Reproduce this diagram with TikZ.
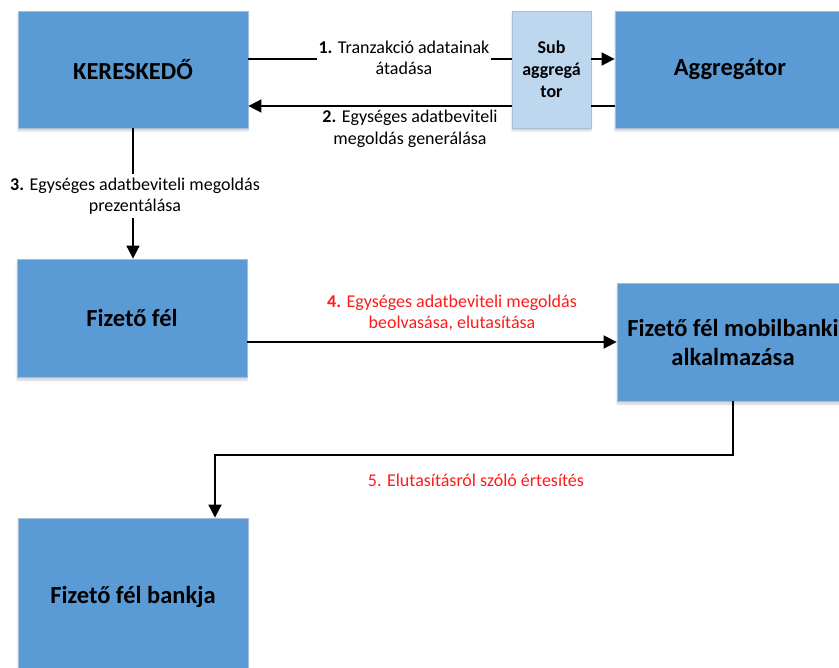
\documentclass[tikz,border=0pt]{standalone}
\usepackage{fontspec}
\setmainfont{Carlito}
\usetikzlibrary{arrows.meta,shadows.blur}
\definecolor{boxblue}{HTML}{5B9BD5}
\definecolor{boxline}{HTML}{A9BDD6}
\definecolor{subblue}{HTML}{BDD7EE}
\definecolor{lblred}{HTML}{FF1A1A}
\tikzset{
  actor/.style={rectangle, fill=boxblue, draw=boxline, line width=0.8pt,
    font=\fontsize{24.5}{29}\selectfont\bfseries, align=center, inner sep=0pt,
    blur shadow={shadow xshift=0pt, shadow yshift=-3pt, shadow blur steps=6, shadow opacity=18}},
  subbox/.style={actor, fill=subblue, font=\fontsize{18}{22}\selectfont\bfseries},
  lbl/.style={font=\fontsize{18}{21.5}\selectfont, align=center, inner sep=1pt},
  redlbl/.style={lbl, text=lblred},
  flow/.style={line width=1.8pt, -{Triangle[length=13pt,width=13pt]}},
  plain/.style={line width=1.8pt},
}
\begin{document}
\begin{tikzpicture}[x=1pt,y=-1pt]
\useasboundingbox (0,0) rectangle (839,668);
\clip (0,0) rectangle (839,668);

% parties
\node[actor, minimum width=230pt, minimum height=117pt] (K) at (133,69.5) {KERESKEDŐ};
\node[subbox, minimum width=79pt, minimum height=117pt] (S) at (551.5,69.5) {Sub\\aggregá\\tor};
\node[actor, minimum width=230pt, minimum height=117pt] (A) at (730,69.5) {Aggregátor};
\node[actor, minimum width=230pt, minimum height=118pt] (F) at (132,318) {Fizető fél};
\node[actor, minimum width=232pt, minimum height=118pt] (M) at (733,342) {Fizető fél mobilbanki\\alkalmazása};
\node[actor, minimum width=230pt, minimum height=158pt] (B) at (133,597) {Fizető fél bankja};

% 1: merchant -> sub-aggregator -> aggregator
\coordinate (k1) at ([yshift=10.5pt]K.east);
\coordinate (s1w) at ([yshift=10.5pt]S.west);
\coordinate (s1e) at ([yshift=10.5pt]S.east);
\node[lbl] (L1) at (404,58) {\textbf{1.} Tranzakció adatainak\\átadása};
\draw[plain] (k1) -- (k1 -| L1.west);
\draw[plain] (L1.east |- s1w) -- (s1w);
\draw[flow] (s1e) -- (s1e -| A.west);

% 2: aggregator -> sub-aggregator -> merchant
\coordinate (a2) at ([yshift=-36.5pt]A.west);
\coordinate (s2w) at ([yshift=-36.5pt]S.west);
\coordinate (s2e) at ([yshift=-36.5pt]S.east);
\draw[plain] (a2) -- (s2e);
\draw[flow] (s2w) -- (s2w -| K.east);
\node[lbl] (L2) at (410,129) {\textbf{2.} Egységes adatbeviteli\\megoldás generálása};

% 3: merchant -> payer
\draw[flow] (K.south) -- (K.south |- F.north);
\node[lbl, fill=white, inner ysep=4pt] (L3) at (135,196) {\textbf{3.} Egységes adatbeviteli megoldás\\prezentálása};

% 4: payer -> mobile banking app
\draw[flow] (M.west -| F.east) -- (M.west);
\node[redlbl] (L4) at (452,313) {\textbf{4.} Egységes adatbeviteli megoldás\\beolvasása, elutasítása};

% 5: mobile banking app -> payer's bank
\coordinate (t5) at (0,455);
\coordinate (b5) at ([xshift=82pt]B.north);
\draw[flow] (M.south) -- (M.south |- t5) -| (b5);
\node[redlbl] (L5) at (476,480) {5. Elutasításról szóló értesítés};
\end{tikzpicture}
\end{document}
